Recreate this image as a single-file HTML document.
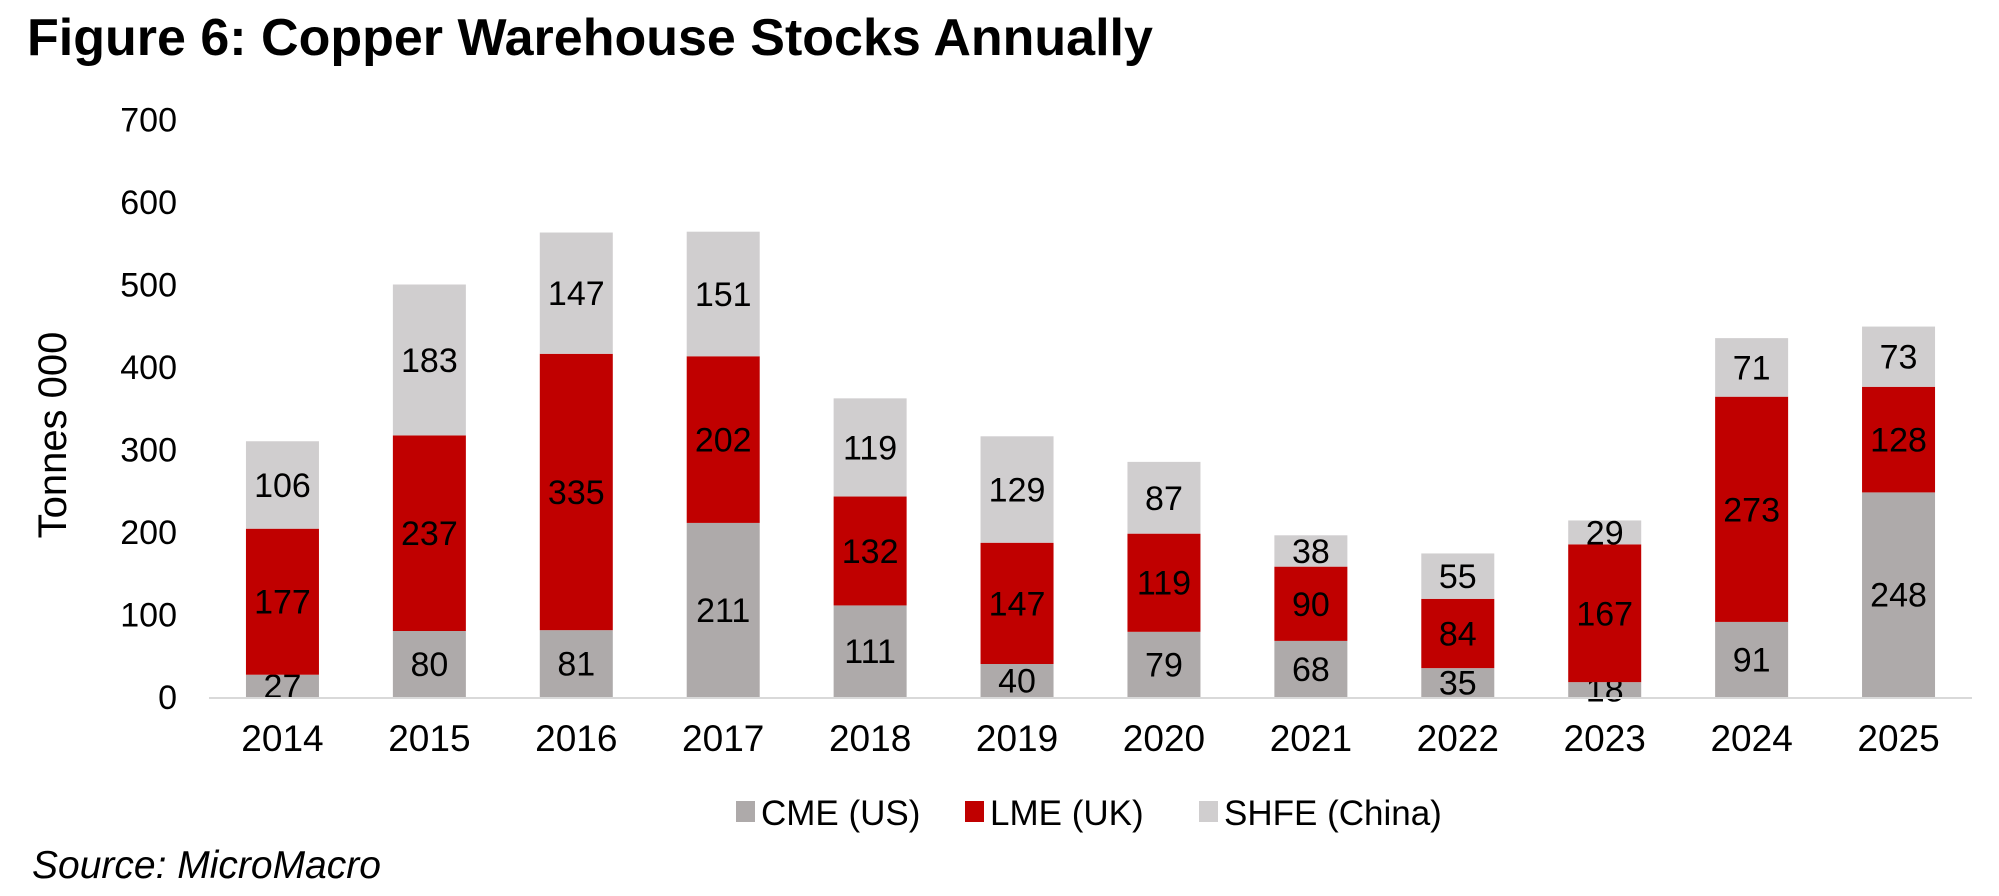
<!DOCTYPE html>
<html><head><meta charset="utf-8"><style>
html,body{margin:0;padding:0;background:#fff;}
svg{display:block;font-family:"Liberation Sans",Arial,sans-serif;}
</style></head><body>
<svg id="chart" width="1999" height="896" viewBox="0 0 1999 896" xmlns="http://www.w3.org/2000/svg">
<text x="27" y="55" font-size="52" font-weight="bold" fill="#000">Figure 6: Copper Warehouse Stocks Annually</text>
<g id="yaxis"></g>
<text transform="translate(66,435) rotate(-90)" text-anchor="middle" font-size="40" fill="#000">Tonnes 000</text>
<g id="bars"></g>
<line x1="209" x2="1972" y1="698" y2="698" stroke="#d9d9d9" stroke-width="2"/>
<g id="xaxis"></g>
<g id="legend"></g>
<text x="32" y="878" font-size="39" font-style="italic" fill="#000">Source: MicroMacro</text>
</svg>
<script>
const categories = ["2014","2015","2016","2017","2018","2019","2020","2021","2022","2023","2024","2025"];
const cme = [27,80,81,211,111,40,79,68,35,18,91,248];
const lme = [177,237,335,202,132,147,119,90,84,167,273,128];
const shfe = [106,183,147,151,119,129,87,38,55,29,71,73];
const yTicks = [0,100,200,300,400,500,600,700];
const seriesNames = ["CME (US)","LME (UK)","SHFE (China)"];

const NS = "http://www.w3.org/2000/svg";
const plotL = 209, plotR = 1972, y0 = 697, yMax = 700, yTop = 119.5;
const colors = ["#aeaaaa","#c00000","#d0cecf"];
function y(v){ return y0 - (v / yMax) * (y0 - yTop); }
const band = (plotR - plotL) / categories.length;
function xc(i){ return plotL + band * (i + 0.5); }
const barW = 73;
function mk(tag, attrs, parent){ const e = document.createElementNS(NS, tag); for (const k in attrs) e.setAttribute(k, attrs[k]); parent.appendChild(e); return e; }

const yg = document.getElementById("yaxis");
yTicks.forEach(t => {
  const e = mk("text", {x:177, y:y(t)+12, "text-anchor":"end", "font-size":34, fill:"#000"}, yg);
  e.textContent = t;
  
  
});

const bg = document.getElementById("bars");
const series = [cme, lme, shfe];
categories.forEach((c, i) => {
  let base = 0;
  series.forEach((s, k) => {
    const v = s[i];
    const r = mk("rect", {x:xc(i)-barW/2, y:y(base+v), width:barW, height:y(base)-y(base+v), fill:colors[k]}, bg);
    
    
    const t = mk("text", {x:xc(i), y:(y(base)+y(base+v))/2+12, "text-anchor":"middle", "font-size":34, fill:"#000"}, bg);
    t.textContent = v;
    
    
    base += v;
  });
});

const xg = document.getElementById("xaxis");
categories.forEach((c, i) => {
  const t = mk("text", {x:xc(i), y:751, "text-anchor":"middle", "font-size":37, fill:"#000"}, xg);
  t.textContent = c;
  
  
});

const lg = document.getElementById("legend");
const lx = [736, 965, 1199];
seriesNames.forEach((n, k) => {
  const r = mk("rect", {x:lx[k], y:801, width:19, height:21, fill:colors[k]}, lg);
  
  
  const t = mk("text", {x:lx[k]+25, y:825, "font-size":35, fill:"#000"}, lg);
  t.textContent = n;
  
  
});
</script>
</body></html>
